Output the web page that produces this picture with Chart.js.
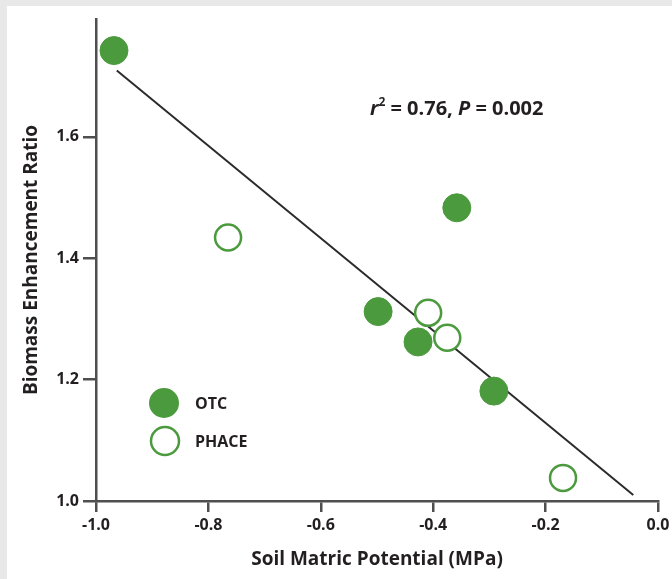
<!DOCTYPE html>
<html>
<head>
<meta charset="utf-8">
<script src="https://cdn.jsdelivr.net/npm/chart.js@4/dist/chart.umd.min.js"></script>
<style>
  html, body { margin: 0; padding: 0; background: #e8e8e8; overflow: hidden; width: 672px; height: 579px; }
  #panel { position: absolute; left: 7px; top: 6px; right: -40px; bottom: -10px; background: #fff; }
  #wrap { position: absolute; left: 0; top: 0; width: 700px; height: 579px; }
</style>
</head>
<body>
<div id="panel"></div>
<div id="wrap"><canvas id="scatter" width="700" height="579"></canvas></div>
<script>
// values
const otcX = [-0.968, -0.358, -0.498, -0.427, -0.292];
const otcY = [1.742, 1.483, 1.312, 1.262, 1.181];
const phaceX = [-0.765, -0.409, -0.375, -0.169];
const phaceY = [1.434, 1.310, 1.269, 1.038];
const fitX = [-0.963, -0.044];
const fitY = [1.709, 1.010];
const xTicks = [-1.0, -0.8, -0.6, -0.4, -0.2, 0.0];
const yTicks = [1.0, 1.2, 1.4, 1.6];
const statText = ['r', '2', ' = 0.76, ', 'P', ' = 0.002'];

const green = '#4b9a3d';
const ink = '#231f20';
const axisGrey = '#4f4f4f';

function pts(xs, ys) { return xs.map((x, i) => ({ x: x, y: ys[i] })); }

// legend + stats text inside the plot
const extras = {
  id: 'extras',
  afterDraw(chart) {
    const c = chart.ctx;
    c.save();
    // legend
    c.beginPath();
    c.arc(164, 403, 15, 0, Math.PI * 2);
    c.fillStyle = green;
    c.fill();
    c.beginPath();
    c.arc(165, 441, 14, 0, Math.PI * 2);
    c.lineWidth = 2.5;
    c.strokeStyle = green;
    c.fillStyle = '#fff';
    c.fill();
    c.stroke();
    c.fillStyle = ink;
    c.font = 'bold 16px "Open Sans"';
    c.textBaseline = 'middle';
    c.fillText('OTC', 195, 404);
    c.fillText('PHACE', 195, 442);
    // r^2, P
    let x = 370;
    const y = 109;
    c.font = 'italic bold 20px "Open Sans"';
    c.fillText(statText[0], x, y); x += c.measureText(statText[0]).width;
    c.font = 'bold 12px "Open Sans"';
    c.fillText(statText[1], x, y - 6); x += c.measureText(statText[1]).width;
    c.font = 'bold 20px "Open Sans"';
    c.fillText(statText[2], x, y); x += c.measureText(statText[2]).width;
    c.font = 'italic bold 20px "Open Sans"';
    c.fillText(statText[3], x, y); x += c.measureText(statText[3]).width;
    c.font = 'bold 20px "Open Sans"';
    c.fillText(statText[4], x, y);
    c.restore();
  }
};

new Chart(document.getElementById('scatter'), {
  type: 'scatter',
  data: {
    datasets: [
      {
        type: 'line',
        data: pts(fitX, fitY),
        borderColor: '#2b2b2b',
        borderWidth: 2,
        pointRadius: 0,
        fill: false,
        order: 3
      },
      {
        label: 'OTC',
        data: pts(otcX, otcY),
        backgroundColor: green,
        borderColor: green,
        borderWidth: 1,
        pointRadius: 14,
        order: 1
      },
      {
        label: 'PHACE',
        data: pts(phaceX, phaceY),
        backgroundColor: '#fff',
        borderColor: green,
        borderWidth: 2.5,
        pointRadius: 13,
        order: 2
      }
    ]
  },
  options: {
    responsive: false,
    animation: false,
    devicePixelRatio: 1,
    layout: { padding: { top: 19, right: 42, left: 0, bottom: 0 } },
    plugins: { legend: { display: false }, tooltip: { enabled: false } },
    scales: {
      x: {
        type: 'linear',
        min: -1, max: 0,
        afterFit(s) { s.height = 78; },
        afterBuildTicks(s) { s.ticks = xTicks.map(v => ({ value: v })); },
        border: { color: axisGrey, width: 2.5 },
        grid: { drawOnChartArea: false, color: axisGrey, lineWidth: 2.5, tickLength: 11 },
        ticks: {
          color: ink, padding: 4,
          font: { family: 'Open Sans', weight: 'bold', size: 16 },
          callback: v => v.toFixed(1)
        },
        title: {
          display: true, text: 'Soil Matric Potential (MPa)', color: ink,
          font: { family: 'Open Sans', weight: 'bold', size: 19 },
          padding: { top: 0, bottom: 8 }
        }
      },
      y: {
        type: 'linear',
        min: 1.0, max: 1.794,
        afterFit(s) { s.width = 96; },
        afterBuildTicks(s) { s.ticks = yTicks.map(v => ({ value: v })); },
        border: { color: axisGrey, width: 2.5 },
        grid: { drawOnChartArea: false, color: axisGrey, lineWidth: 2.5, tickLength: 13 },
        ticks: {
          color: ink, padding: 4,
          font: { family: 'Open Sans', weight: 'bold', size: 16 },
          callback: v => v.toFixed(1)
        },
        title: {
          display: true, text: 'Biomass Enhancement Ratio', color: ink,
          font: { family: 'Open Sans', weight: 'bold', size: 19 },
          padding: { top: 20, bottom: 0 }
        }
      }
    }
  },
  plugins: [extras]
});
</script>
</body>
</html>
